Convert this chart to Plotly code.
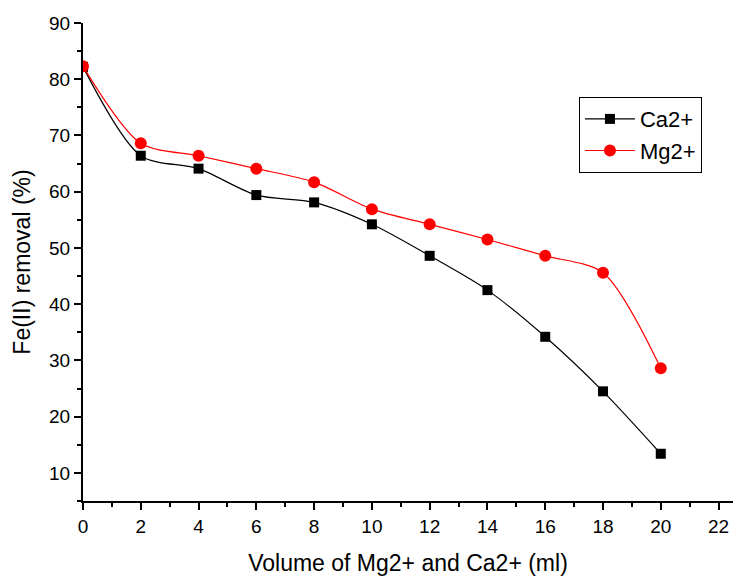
import plotly.graph_objects as go

volume = [0, 2, 4, 6, 8, 10, 12, 14, 16, 18, 20]
ca_removal = [82.2, 66.4, 64.1, 59.4, 58.1, 54.2, 48.6, 42.5, 34.2, 24.5, 13.4]
mg_removal = [82.3, 68.6, 66.4, 64.1, 61.7, 56.9, 54.2, 51.5, 48.6, 45.6, 28.6]
x_ticks = [0, 2, 4, 6, 8, 10, 12, 14, 16, 18, 20, 22]
y_ticks = [10, 20, 30, 40, 50, 60, 70, 80, 90]

fig = go.Figure()
fig.add_trace(go.Scatter(
    x=volume, y=ca_removal, name="Ca2+", mode="lines+markers",
    line=dict(color="black", width=1.2, shape="spline", smoothing=0.8),
    marker=dict(symbol="square", size=10, color="black"),
))
fig.add_trace(go.Scatter(
    x=volume, y=mg_removal, name="Mg2+", mode="lines+markers",
    line=dict(color="red", width=1.2, shape="spline", smoothing=0.8),
    marker=dict(symbol="circle", size=12, color="red"),
))

font_family = "Liberation Sans, Arial, sans-serif"
fig.update_layout(
    width=733, height=576,
    margin=dict(l=83, r=0, t=23, b=75),
    plot_bgcolor="white", paper_bgcolor="white",
    font=dict(family=font_family, color="black", size=19),
    showlegend=True,
    legend=dict(
        x=0.763, y=0.845, xanchor="left", yanchor="top",
        bordercolor="black", borderwidth=1, bgcolor="white",
        font=dict(size=22, family=font_family), tracegroupgap=0,
        itemwidth=50,
    ),
    xaxis=dict(
        range=[0, 22.5], tickvals=x_ticks, showgrid=False, zeroline=False,
        showline=True, linecolor="black", linewidth=2, automargin=False,
        ticks="outside", ticklen=7, tickwidth=2, tickcolor="black",
        minor=dict(dtick=1, ticks="outside", ticklen=4, tickwidth=1.5, tickcolor="black"),
        title=dict(text="Volume of Mg2+ and Ca2+ (ml)", font=dict(size=23), standoff=20),
        tickfont=dict(size=19),
    ),
    yaxis=dict(
        range=[5, 90], tickvals=y_ticks, showgrid=False, zeroline=False,
        showline=True, linecolor="black", linewidth=2, automargin=False,
        ticks="outside", ticklen=7, tickwidth=2, tickcolor="black",
        minor=dict(dtick=5, tick0=5, ticks="outside", ticklen=4, tickwidth=1.5, tickcolor="black"),
        title=dict(text="Fe(II) removal (%)", font=dict(size=23), standoff=12),
        tickfont=dict(size=19),
    ),
)
fig.write_html(
    "out.html",
    config={"displayModeBar": False},
    post_script="document.body.style.margin='0';document.body.style.overflow='hidden';",
)
